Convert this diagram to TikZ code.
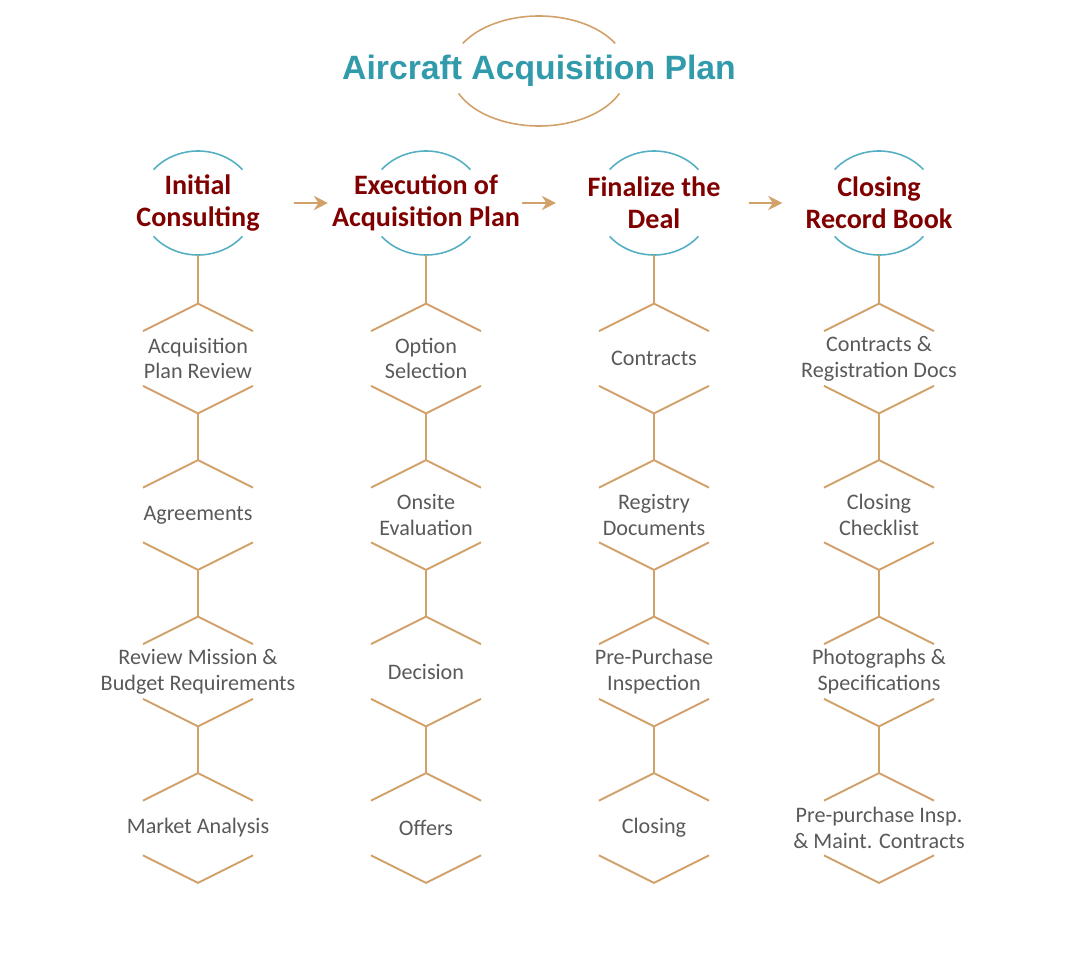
\documentclass[tikz,border=0pt]{standalone}
\usepackage{fontspec}
\setmainfont{Carlito}
\newfontfamily\titlefont{Liberation Sans}
\usetikzlibrary{calc,arrows.meta}

\definecolor{planTan}{RGB}{210,160,105}
\definecolor{ringTeal}{RGB}{85,175,195}
\definecolor{titleTeal}{RGB}{49,155,172}
\definecolor{phaseRed}{RGB}{128,0,0}
\definecolor{taskGray}{RGB}{89,89,89}

\tikzset{
  phase/.style={rectangle, inner sep=0pt, minimum height=2.08cm, align=center,
    text=phaseRed, font=\fontsize{16}{18}\selectfont\bfseries},
  task/.style={rectangle, inner sep=0pt, minimum height=2.18cm, align=center,
    text=taskGray, font=\fontsize{12.6}{14.7}\selectfont},
  link/.style={draw=planTan, line width=1.1pt},
  flow/.style={draw=planTan, line width=1.6pt, -{Stealth[length=8pt,width=8pt]}},
  ring/.style={draw=ringTeal, line width=0.9pt},
}

% chevrons above and below a task node
\newcommand{\taskframe}[1]{%
  \draw[link] ($(#1.north)+(-1.1,-0.55)$) -- (#1.north) -- ($(#1.north)+(1.1,-0.55)$);
  \draw[link] ($(#1.south)+(-1.1,0.55)$) -- (#1.south) -- ($(#1.south)+(1.1,0.55)$);}
% open ring round a phase heading
\newcommand{\phasering}[1]{%
  \draw[ring] ($(#1.center)+(40:1.16cm and 1.04cm)$)
    arc[start angle=40, end angle=140, x radius=1.16cm, y radius=1.04cm];
  \draw[ring] ($(#1.center)+(220:1.16cm and 1.04cm)$)
    arc[start angle=220, end angle=320, x radius=1.16cm, y radius=1.04cm];}

\begin{document}
\begin{tikzpicture}
  \useasboundingbox (0,0) rectangle (21.6,-19.2);

  % title with its ring
  \node[anchor=base, text=titleTeal, font=\titlefont\fontsize{19.2}{23}\selectfont\bfseries]
    (title) at (10.78,-1.60) {Aircraft Acquisition Plan};
  \draw[draw=planTan, line width=0.9pt] ($(10.78,-1.42)+(30:1.76cm and 1.1cm)$)
    arc[start angle=30, end angle=150, x radius=1.76cm, y radius=1.1cm];
  \draw[draw=planTan, line width=0.9pt] ($(10.78,-1.42)+(204:1.76cm and 1.1cm)$)
    arc[start angle=204, end angle=336, x radius=1.76cm, y radius=1.1cm];

  % phase headings
  \node[phase] (consult) at (3.96,-4.06) {Initial\\Consulting};
  \node[phase] (execute) at (8.52,-4.06) {Execution of\\Acquisition Plan};
  \node[phase] (finalize) at (13.08,-4.06) {Finalize the\\Deal};
  \node[phase] (record) at (17.58,-4.06) {Closing\\Record Book};
  \phasering{consult}
  \phasering{execute}
  \phasering{finalize}
  \phasering{record}

  % arrows between phases
  \draw[flow] ($(consult)!0.42!(execute)$) -- ($(consult)!0.57!(execute)$);
  \draw[flow] ($(execute)!0.42!(finalize)$) -- ($(execute)!0.57!(finalize)$);
  \draw[flow] ($(finalize)!0.42!(record)$) -- ($(finalize)!0.57!(record)$);

  % tasks of Initial Consulting
  \node[task] (consult1) at (3.96,-7.17) {Acquisition\\Plan Review};
  \node[task] (consult2) at (3.96,-10.30) {Agreements};
  \node[task] (consult3) at (3.96,-13.43) {Review Mission \&\\Budget Requirements};
  \node[task] (consult4) at (3.96,-16.56) {Market Analysis};

  % tasks of Execution of Acquisition Plan
  \node[task] (execute1) at (8.52,-7.17) {Option\\Selection};
  \node[task] (execute2) at (8.52,-10.30) {Onsite\\Evaluation};
  \node[task] (execute3) at (8.52,-13.43) {Decision};
  \node[task] (execute4) at (8.52,-16.56) {Offers};

  % tasks of Finalize the Deal
  \node[task] (finalize1) at (13.08,-7.17) {Contracts};
  \node[task] (finalize2) at (13.08,-10.30) {Registry\\Documents};
  \node[task] (finalize3) at (13.08,-13.43) {Pre-Purchase\\Inspection};
  \node[task] (finalize4) at (13.08,-16.56) {Closing};

  % tasks of Closing Record Book
  \node[task] (record1) at (17.58,-7.17) {Contracts \&\\Registration Docs};
  \node[task] (record2) at (17.58,-10.30) {Closing\\Checklist};
  \node[task] (record3) at (17.58,-13.43) {Photographs \&\\Specifications};
  \node[task] (record4) at (17.58,-16.56) {Pre-purchase Insp.\\\& Maint. Contracts};

  % frames and links down each column
  \foreach \col in {consult,execute,finalize,record}{
    \foreach \i in {1,2,3,4}{\taskframe{\col\i}}
    \draw[link] (\col.south) -- (\col1.north);
    \draw[link] (\col1.south) -- (\col2.north);
    \draw[link] (\col2.south) -- (\col3.north);
    \draw[link] (\col3.south) -- (\col4.north);
  }
\end{tikzpicture}
\end{document}
